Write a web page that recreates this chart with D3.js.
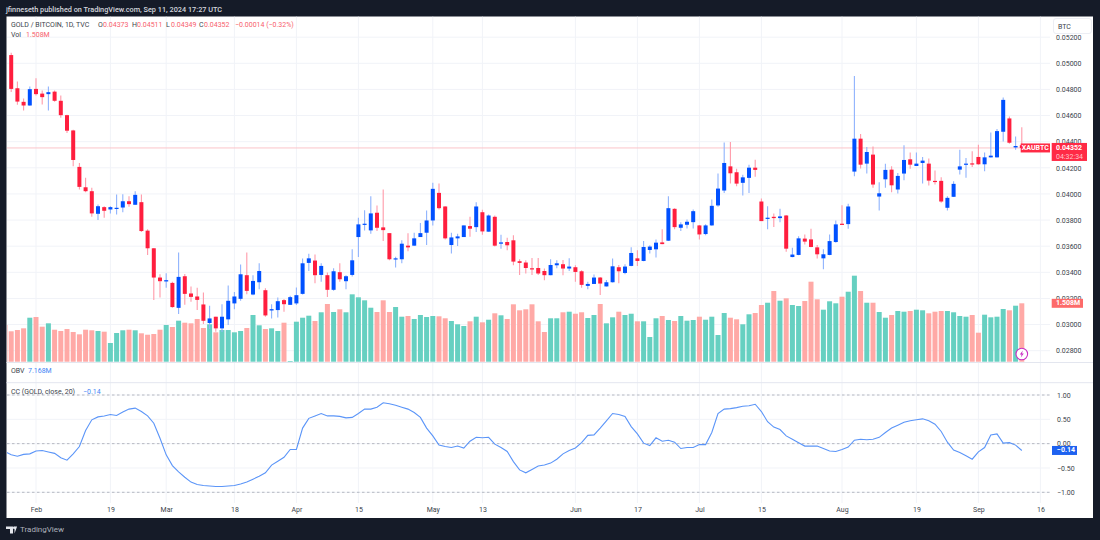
<!DOCTYPE html>
<html><head><meta charset="utf-8">
<style>html,body{margin:0;padding:0;background:#151b28;overflow:hidden}svg{display:block}
text{font-family:Roboto,sans-serif}</style>
<script src="https://cdn.jsdelivr.net/npm/d3@7/dist/d3.min.js"></script></head><body>
<svg id="c" width="1100" height="540"></svg>
<script>
// Daily candles, first entry is the bar just off the left edge. Weekdays; Feb 1 2024 is position 5.
const opens=[.05095,.05063,.04809,.04705,.04677,.04804,.04768,.04764,.04783,.04713,.04603,.04486,.04207,.04051,.04021,
.03848,.03899,.03881,.03886,.03896,.03944,.03917,.03937,.03719,.03584,
.03360,.03330,.03319,.03128,.03370,.03238,.03215,.03154,.03012,.03060,
.02971,.03040,.03162,.03197,.03378,.03230,.03324,.03263,.03108,.03111,
.03187,.03151,.03162,.03235,.03472,.03490,.03380,.03378,.03266,.03401,
.03332,.03380,.03670,.03767,.03721,.03856,.03744,.03700,.03500,.03500,
.03604,.03604,.03670,.03703,.03797,.04008,.03904,.03609,.03660,.03670,
.03754,.03746,.03860,.03711,.03825,.03619,.03632,.03645,.03485,.03475,
.03431,.03433,.03410,.03378,.03454,.03462,.03429,.03439,.03408,.03296,
.03311,.03360,.03292,.03324,.03439,.03395,.03449,.03507,.03487,.03571,
.03576,.03629,.03642,.03886,.03741,.03764,.03784,.03759,.03693,.03759,
.03912,.04026,.04211,.04166,.04085,.04123,.04201,.03942,.03810,.03825,
.03815,.03835,.03517,.03533,.03658,.03652,.03591,.03507,.03533,.03632,
.03772,.03769,.04171,.04423,.04232,.04301,.03980,.04112,.04186,.04034,
.04156,.04265,.04214,.04237,.04232,.04100,.04100,.03894,.03978,.04186,
.04227,.04234,.04283,.04227,.04280,.04280,.04476,.04578,.04356,.04373];
const highs=[.05110,.05081,.04860,.04730,.04822,.04886,.04791,.04822,.04791,.04753,.04606,.04491,.04237,.04123,.04047,
.03919,.03906,.03906,.03995,.03998,.03983,.04021,.03995,.03729,.03586,
.03385,.03393,.03327,.03551,.03388,.03292,.03281,.03246,.03144,.03060,
.03156,.03299,.03250,.03459,.03551,.03378,.03469,.03278,.03156,.03208,
.03195,.03220,.03284,.03505,.03543,.03536,.03469,.03398,.03431,.03469,
.03378,.03576,.03818,.03876,.03983,.03912,.04034,.03700,.03520,.03645,
.03700,.03703,.03777,.03873,.04085,.04079,.03906,.03703,.03696,.03759,
.03825,.03937,.03879,.03843,.03835,.03688,.03665,.03683,.03500,.03492,
.03510,.03510,.03429,.03500,.03492,.03494,.03507,.03454,.03416,.03327,
.03383,.03365,.03342,.03505,.03456,.03462,.03591,.03568,.03639,.03607,
.03652,.03729,.03983,.03891,.03784,.03805,.03881,.03763,.03767,.03957,
.04156,.04394,.04397,.04192,.04146,.04224,.04262,.03965,.03906,.03851,
.03886,.03839,.03589,.03677,.03690,.03734,.03609,.03576,.03690,.03797,
.03914,.03925,.04903,.04459,.04359,.04364,.04089,.04232,.04211,.04161,
.04372,.04318,.04318,.04283,.04272,.04179,.04127,.03983,.04097,.04339,
.04275,.04326,.04377,.04318,.04471,.04497,.04738,.04593,.04440,.04511];
const lows=[.05050,.04781,.04682,.04639,.04675,.04753,.04684,.04639,.04705,.04583,.04466,.04211,.04034,.04013,.03825,
.03800,.03818,.03851,.03843,.03860,.03902,.03917,.03708,.03533,.03189,
.03208,.03281,.03128,.03080,.03151,.03174,.03111,.03004,.02966,.02945,
.02943,.02996,.03118,.03182,.03233,.03225,.03271,.03060,.03047,.03055,
.03098,.03151,.03149,.03230,.03410,.03317,.03327,.03212,.03258,.03327,
.03271,.03368,.03517,.03721,.03696,.03716,.03639,.03492,.03436,.03469,
.03561,.03604,.03670,.03609,.03759,.03881,.03652,.03545,.03601,.03670,
.03673,.03708,.03688,.03711,.03597,.03581,.03568,.03454,.03380,.03391,
.03380,.03380,.03340,.03378,.03431,.03378,.03410,.03327,.03281,.03271,
.03311,.03227,.03292,.03322,.03317,.03385,.03446,.03449,.03485,.03545,
.03513,.03614,.03639,.03729,.03716,.03736,.03736,.03652,.03683,.03757,
.03902,.04008,.04079,.04059,.03988,.04008,.04131,.03792,.03729,.03746,
.03784,.03558,.03515,.03530,.03612,.03591,.03505,.03423,.03530,.03627,
.03763,.03734,.04135,.04194,.04156,.04047,.03873,.04047,.04013,.04003,
.04105,.04192,.04213,.04079,.04064,.04072,.03932,.03873,.03976,.04148,
.04123,.04207,.04224,.04173,.04278,.04278,.04402,.04385,.04339,.04349];
const closes=[.05063,.04804,.04707,.04677,.04802,.04764,.04741,.04779,.04713,.04603,.04484,.04260,.04054,.04021,.03851,
.03906,.03871,.03899,.03894,.03944,.03922,.03993,.03716,.03584,.03360,
.03332,.03340,.03134,.03365,.03235,.03212,.03189,.03029,.03047,.02971,
.03060,.03182,.03215,.03385,.03258,.03334,.03410,.03070,.03118,.03179,
.03156,.03210,.03225,.03469,.03507,.03378,.03449,.03266,.03408,.03347,
.03370,.03492,.03767,.03772,.03851,.03741,.03723,.03500,.03507,.03619,
.03591,.03660,.03700,.03797,.04039,.03891,.03660,.03667,.03675,.03759,
.03734,.03904,.03713,.03835,.03604,.03629,.03607,.03482,.03472,.03433,
.03426,.03391,.03378,.03456,.03469,.03429,.03444,.03403,.03304,.03311,
.03360,.03314,.03324,.03446,.03408,.03444,.03548,.03487,.03594,.03597,
.03627,.03616,.03891,.03746,.03767,.03787,.03868,.03690,.03759,.03909,
.04041,.04237,.04158,.04079,.04127,.04201,.04184,.03792,.03818,.03815,
.03828,.03581,.03536,.03660,.03635,.03594,.03538,.03538,.03639,.03767,
.03764,.03904,.04423,.04224,.04321,.04072,.04005,.04184,.04066,.04138,
.04260,.04224,.04232,.04255,.04102,.04092,.03942,.03970,.04077,.04211,
.04232,.04227,.04227,.04280,.04293,.04481,.04720,.04392,.04367,.04352];
// Volume, millions
const volumes=[.948,.785,.818,.862,1.136,1.154,.904,.991,.826,.793,.844,.767,.707,.826,.811,
.793,.775,.483,.741,.811,.826,.811,.733,.697,.715,
.826,.948,.896,1.059,1.007,.991,1.103,.870,.966,.759,
.818,.818,.759,.793,.870,1.206,.940,.844,.862,.793,
1.007,.018,1.033,1.136,1.188,1.051,1.276,1.490,1.283,1.353,
1.276,1.740,1.663,1.585,1.394,1.283,1.585,1.283,1.412,1.162,
1.180,1.103,1.206,1.154,1.180,1.172,1.121,1.051,.966,.922,
1.043,1.162,1.017,1.084,1.250,1.198,1.103,1.482,1.327,1.353,
1.482,1.043,.767,1.121,1.121,1.276,1.291,1.239,1.276,1.128,
1.206,1.490,.991,1.146,1.291,1.206,1.239,1.043,1.043,.638,
1.121,1.180,1.077,1.051,1.180,1.059,1.077,1.162,1.084,1.162,
.689,1.257,1.136,1.095,.966,1.224,1.257,1.464,1.523,1.825,
1.575,1.637,1.464,1.438,1.567,2.066,1.611,1.343,1.560,1.508,
1.678,1.807,2.221,1.825,1.523,1.523,1.283,1.136,1.206,1.309,
1.291,1.309,1.343,1.327,1.250,1.291,1.309,1.309,1.276,1.180,
1.162,1.206,.749,1.214,1.146,1.162,1.361,1.327,1.446,1.508];
// Correlation coefficient
const ccValues=[-.16,-.23,-.26,-.22,-.21,-.15,-.14,-.17,-.20,-.29,-.34,-.21,-.06,.27,.49,
.55,.57,.60,.58,.65,.71,.73,.66,.57,.42,
.11,-.23,-.45,-.58,-.69,-.79,-.84,-.86,-.87,-.88,
-.88,-.87,-.86,-.83,-.79,-.73,-.67,-.60,-.44,-.36,
-.28,-.12,-.12,.32,.52,.57,.62,.57,.57,.56,
.53,.54,.62,.71,.71,.75,.84,.82,.79,.75,
.71,.64,.54,.32,.16,-.03,-.06,-.08,-.05,-.09,
.05,.13,.12,.13,-.01,-.08,-.16,-.37,-.54,-.60,
-.53,-.46,-.44,-.40,-.32,-.21,-.14,-.09,.02,.17,
.18,.32,.47,.62,.60,.56,.35,.20,.01,-.04,
.12,.05,.07,.03,-.10,-.08,-.08,-.02,-.02,.23,
.62,.71,.72,.74,.77,.78,.81,.66,.45,.34,
.29,.16,.09,.02,-.05,-.05,-.05,-.10,-.15,-.16,
-.12,-.07,.07,.09,.08,.09,.13,.23,.32,.38,
.44,.47,.49,.51,.47,.40,.25,.03,-.13,-.18,
-.25,-.32,-.17,-.08,.18,.20,.01,.02,-.03,-.14];
const timeTickLabels=["Feb","19","Mar","18","Apr","15","May","13","Jun","17","Jul","15","Aug","19","Sep","16"];
const timeTickPos=[5,17,26,37,47,57,69,77,92,102,112,122,135,147,157,167];
const priceTicks=[.028,.030,.032,.034,.036,.038,.040,.042,.044,.046,.048,.050,.052];
const ccTicks=[1,.5,0,-.5,-1];
const ccDashed=[1,0,-1];

if(![highs,lows,closes,volumes,ccValues].every(a=>a.length===opens.length))
  throw new Error("len "+[opens,highs,lows,closes,volumes,ccValues].map(a=>a.length));

const BLUE="#0050ff",RED="#ff1e3e",BLUEW="#8fb3fd",REDW="#ff9aa9",TEAL="#66d0c1",PINK="#ffa9a6",
      GRID="#f1f3f8",TXT="#3a3f4b",LRED="#f7606c",LBLUE="#3f85f5";
const svg=d3.select("#c");
const L=6.5,T=16.5,R=1093,B=518,PR=1050;
svg.append("rect").attr("x",L).attr("y",T).attr("width",R-L).attr("height",B-T).attr("fill","#fff");
svg.append("defs").append("clipPath").attr("id","pane").append("rect").attr("x",7).attr("y",T).attr("width",PR-7).attr("height",B-T);

const x=d3.scaleLinear().domain([5,167]).range([36,1040.4]);
const y=d3.scaleLinear().domain([.028,.05]).range([350.7,63.3]);
const vy=d3.scaleLinear().domain([0,1.508]).range([361.7,303.3]);
const ccy=d3.scaleLinear().domain([-1,1]).range([492.3,395]);
const idx=d3.range(opens.length);
const plot=svg.append("g").attr("clip-path","url(#pane)");

// grid
plot.append("g").selectAll("line").data(timeTickPos).join("line")
 .attr("x1",d=>x(d)).attr("x2",d=>x(d)).attr("y1",T).attr("y2",503).attr("stroke",GRID);
plot.append("g").selectAll("line").data(priceTicks).join("line")
 .attr("x1",7).attr("x2",PR).attr("y1",d=>y(d)).attr("y2",d=>y(d)).attr("stroke",GRID);
plot.append("g").selectAll("line").data(ccTicks).join("line")
 .attr("x1",7).attr("x2",PR).attr("y1",d=>ccy(d)).attr("y2",d=>ccy(d)).attr("stroke",GRID);

// pane separators
[362.5,382.7].forEach(v=>svg.append("line").attr("x1",L).attr("x2",R).attr("y1",v).attr("y2",v).attr("stroke","#e3e6ef"));

// volume
plot.append("g").selectAll("rect").data(idx).join("rect")
 .attr("x",i=>x(i)-2.5).attr("width",5).attr("y",i=>vy(volumes[i])).attr("height",i=>vy(0)-vy(volumes[i]))
 .attr("fill",i=>closes[i]>=opens[i]?TEAL:PINK);

// last price line
plot.append("line").attr("x1",7).attr("x2",PR).attr("y1",y(closes[closes.length-1])).attr("y2",y(closes[closes.length-1]))
 .attr("stroke","#fbc5c9").attr("stroke-width",1);

// candles
const up=i=>closes[i]>=opens[i];
plot.append("g").selectAll("line").data(idx).join("line")
 .attr("x1",i=>x(i)).attr("x2",i=>x(i)).attr("y1",i=>y(highs[i])).attr("y2",i=>y(lows[i]))
 .attr("stroke",i=>up(i)?BLUEW:REDW).attr("stroke-width",1.1);
plot.append("g").selectAll("rect").data(idx).join("rect")
 .attr("x",i=>x(i)-2).attr("width",4)
 .attr("y",i=>y(Math.max(opens[i],closes[i])))
 .attr("height",i=>Math.max(1.2,Math.abs(y(opens[i])-y(closes[i]))))
 .attr("fill",i=>up(i)?BLUE:RED);

// cc pane
plot.append("g").selectAll("line").data(ccDashed).join("line")
 .attr("x1",7).attr("x2",PR).attr("y1",d=>ccy(d)).attr("y2",d=>ccy(d))
 .attr("stroke","#b6b9c2").attr("stroke-dasharray","2.5 2.5");
plot.append("path").attr("fill","none").attr("stroke","#5b95f8").attr("stroke-width",1.1)
 .attr("d",d3.line().x((d,i)=>x(i)).y(d=>ccy(d))(ccValues));

// axes
const FS=7;
function styleAxis(g){g.select(".domain").remove();g.selectAll(".tick line").remove();
 g.selectAll("text").attr("font-family","Roboto,sans-serif").attr("font-size",FS).attr("fill",TXT);}
svg.append("g").attr("transform","translate(1056,0)")
 .call(d3.axisRight(y).tickValues(priceTicks).tickFormat(d3.format(".5f")).tickSize(0).tickPadding(0)).call(styleAxis);
svg.append("g").attr("transform","translate(1057,0)")
 .call(d3.axisRight(ccy).tickValues(ccTicks).tickFormat(d=>d3.format(".2f")(d).replace("-","\u2212")).tickSize(0).tickPadding(0)).call(styleAxis);
svg.append("g").attr("transform","translate(0,503)")
 .call(d3.axisBottom(x).tickValues(timeTickPos).tickFormat((d,i)=>timeTickLabels[i]).tickSize(0).tickPadding(4)).call(styleAxis);

function txt(s,px,py,fill,opt={}){return svg.append("text").attr("x",px).attr("y",py).text(s).attr("fill",fill)
 .attr("font-size",opt.fs||FS).attr("font-weight",opt.w||400).attr("text-anchor",opt.a||"start").attr("dominant-baseline","central");}

// price tags
const lastY=y(closes[closes.length-1]);
svg.append("rect").attr("x",1020.7).attr("y",lastY-4.5).attr("width",29.3).attr("height",9).attr("fill","#ff2a45");
txt("XAUBTC",1035.3,lastY,"#fff",{a:"middle",w:700});
svg.append("rect").attr("x",1051.7).attr("y",lastY-5).attr("width",35.3).attr("height",18).attr("fill","#ff2a45");
txt("0.04352",1056,lastY,"#fff",{w:700});
txt("04:32:34",1056,lastY+9,"#ffc4cb");
svg.append("rect").attr("x",1051.7).attr("y",vy(1.508)-4.5).attr("width",31.3).attr("height",9).attr("fill","#fd6a6a");
txt("1.508M",1056,vy(1.508),"#fff",{w:700});
svg.append("rect").attr("x",1052).attr("y",ccy(-.14)-4.5).attr("width",25).attr("height",9).attr("fill","#1e62f0");
txt("\u22120.14",1057,ccy(-.14),"#fff",{w:700});

// BTC button
svg.append("rect").attr("x",1053.5).attr("y",18.5).attr("width",38).attr("height",15).attr("rx",2.5).attr("fill","#fff").attr("stroke","#eceef4");
txt("BTC",1058,27,TXT);

// legends
const row=(items,py)=>items.forEach(([s,px,c])=>txt(s,px,py,c));
row([["GOLD / BITCOIN, 1D, TVC",11,TXT],["O",98,TXT],["0.04373",103,LRED],["H",132,TXT],["0.04511",137,LRED],
     ["L",166,TXT],["0.04349",171,LRED],["C",199,TXT],["0.04352",204,LRED],["\u22120.00014 (\u22120.32%)",235,LRED]],25);
row([["Vol",11,TXT],["1.508M",26,LRED]],35);
row([["OBV",11,TXT],["7.168M",28,LBLUE]],371);
row([["CC (GOLD, close, 20)",11,TXT],["\u22120.14",83,LBLUE]],392);

// header + footer
txt("jfinneseth published on TradingView.com, Sep 11, 2024 17:27 UTC",6,9,"#d4d7de",{fs:7.3,w:500});
svg.append("path").attr("d","M6 526.5h7v7h-3v-4.5h-4z M14.5 533.5l2.6-7h-2.6z").attr("fill","#e4e6ec");
svg.append("circle").attr("cx",14.2).attr("cy",527.8).attr("r",1.3).attr("fill","#e4e6ec");
txt("TradingView",20,529.5,"#aeb2bc",{fs:8});

// lightning badge
const bx=x(164),by=354;
svg.append("circle").attr("cx",bx).attr("cy",by).attr("r",5.8).attr("fill","#fff").attr("stroke","#c92fc4").attr("stroke-width",1.1);
svg.append("path").attr("d",`M${bx+1} ${by-3.4}L${bx-2} ${by+.6}H${bx-.2}L${bx-1} ${by+3.4}L${bx+2} ${by-.6}H${bx+.2}Z`).attr("fill","#c92fc4");
</script></body></html>
